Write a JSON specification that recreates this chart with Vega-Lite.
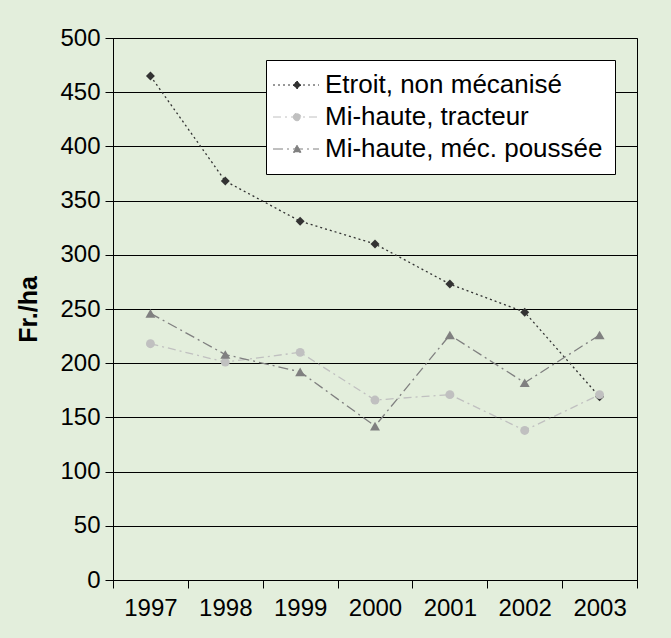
{
  "$schema": "https://vega.github.io/schema/vega-lite/v6.json",
  "width": 524,
  "height": 542,
  "autosize": {"type": "none"},
  "padding": {"left": 113, "top": 38, "right": 34, "bottom": 58},
  "background": "#e3eedc",
  "datasets": {
    "d": [
      {"year": "1997", "series": "Etroit, non mécanisé", "value": 465},
      {"year": "1998", "series": "Etroit, non mécanisé", "value": 368},
      {"year": "1999", "series": "Etroit, non mécanisé", "value": 331},
      {"year": "2000", "series": "Etroit, non mécanisé", "value": 310},
      {"year": "2001", "series": "Etroit, non mécanisé", "value": 273},
      {"year": "2002", "series": "Etroit, non mécanisé", "value": 247},
      {"year": "2003", "series": "Etroit, non mécanisé", "value": 169},
      {"year": "1997", "series": "Mi-haute, tracteur", "value": 218},
      {"year": "1998", "series": "Mi-haute, tracteur", "value": 201},
      {"year": "1999", "series": "Mi-haute, tracteur", "value": 210},
      {"year": "2000", "series": "Mi-haute, tracteur", "value": 166},
      {"year": "2001", "series": "Mi-haute, tracteur", "value": 171},
      {"year": "2002", "series": "Mi-haute, tracteur", "value": 138},
      {"year": "2003", "series": "Mi-haute, tracteur", "value": 171},
      {"year": "1997", "series": "Mi-haute, méc. poussée", "value": 246},
      {"year": "1998", "series": "Mi-haute, méc. poussée", "value": 208},
      {"year": "1999", "series": "Mi-haute, méc. poussée", "value": 192},
      {"year": "2000", "series": "Mi-haute, méc. poussée", "value": 142},
      {"year": "2001", "series": "Mi-haute, méc. poussée", "value": 226},
      {"year": "2002", "series": "Mi-haute, méc. poussée", "value": 182},
      {"year": "2003", "series": "Mi-haute, méc. poussée", "value": 226}
    ]
  },
  "data": {"name": "d"},
  "config": {
    "font": "Liberation Sans",
    "view": {"stroke": "#000000", "strokeWidth": 1, "fill": "#ffffff"},
    "axis": {
      "labelColor": "#000000",
      "labelFontSize": 24,
      "labelFont": "Liberation Sans",
      "domainColor": "#000000",
      "tickColor": "#000000",
      "tickSize": 8,
      "titleColor": "#000000",
      "titleFont": "Liberation Sans"
    },
    "legend": {
      "labelFontSize": 26,
      "labelFont": "Liberation Sans",
      "labelColor": "#000000",
      "fillColor": "#ffffff",
      "strokeColor": "#000000",
      "padding": 12,
      "symbolSize": 100,
      "symbolStrokeWidth": 1,
      "labelOffset": 21,
      "rowPadding": 6,
      "labelLimit": 500
    }
  },
  "layer": [
    {
      "transform": [{"filter": {"field": "series", "equal": "Etroit, non mécanisé"}}],
      "mark": {"type": "line", "color": "#333333", "strokeWidth": 1.3, "strokeDash": [2, 3]},
      "encoding": {
        "x": {"field": "year", "type": "ordinal", "scale": {"type": "band", "paddingInner": 0, "paddingOuter": 0},
          "axis": {"title": null, "labelAngle": 0, "tickBand": "extent", "labelPadding": 8, "grid": false}},
        "y": {"field": "value", "type": "quantitative", "scale": {"domain": [0, 500], "nice": false},
          "axis": {"values": [0, 50, 100, 150, 200, 250, 300, 350, 400, 450, 500], "grid": true, "gridColor": "#000000", "gridOpacity": 1,
            "labelPadding": 5, "title": "Fr./ha", "titleFontSize": 25, "titleFontWeight": "bold", "titlePadding": 18}}
      }
    },
    {
      "transform": [{"filter": {"field": "series", "equal": "Etroit, non mécanisé"}}],
      "mark": {"type": "point", "shape": "diamond", "filled": true, "color": "#333333", "size": 80, "opacity": 1},
      "encoding": {
        "x": {"field": "year", "type": "ordinal"},
        "y": {"field": "value", "type": "quantitative"}
      }
    },
    {
      "transform": [{"filter": {"field": "series", "equal": "Mi-haute, tracteur"}}],
      "mark": {"type": "line", "color": "#c0c0c0", "strokeWidth": 1.3, "strokeDash": [8, 4, 2, 4]},
      "encoding": {
        "x": {"field": "year", "type": "ordinal"},
        "y": {"field": "value", "type": "quantitative"}
      }
    },
    {
      "transform": [{"filter": {"field": "series", "equal": "Mi-haute, tracteur"}}],
      "mark": {"type": "point", "shape": "circle", "filled": true, "color": "#c0c0c0", "size": 80, "opacity": 1},
      "encoding": {
        "x": {"field": "year", "type": "ordinal"},
        "y": {"field": "value", "type": "quantitative"}
      }
    },
    {
      "transform": [{"filter": {"field": "series", "equal": "Mi-haute, méc. poussée"}}],
      "mark": {"type": "line", "color": "#808080", "strokeWidth": 1.3, "strokeDash": [10, 4, 2, 4]},
      "encoding": {
        "x": {"field": "year", "type": "ordinal"},
        "y": {"field": "value", "type": "quantitative"}
      }
    },
    {
      "transform": [{"filter": {"field": "series", "equal": "Mi-haute, méc. poussée"}}],
      "mark": {"type": "point", "shape": "triangle-up", "filled": true, "color": "#808080", "size": 100, "opacity": 1},
      "encoding": {
        "x": {"field": "year", "type": "ordinal"},
        "y": {"field": "value", "type": "quantitative"}
      }
    },
    {
      "data": {"values": []},
      "mark": {"type": "point", "filled": true, "opacity": 1, "size": 100, "strokeWidth": 1},
      "encoding": {
        "fill": {"field": "series", "type": "nominal",
          "scale": {"domain": ["Etroit, non mécanisé", "Mi-haute, tracteur", "Mi-haute, méc. poussée"], "range": ["#333333", "#c0c0c0", "#808080"]},
          "legend": {"orient": "none", "legendX": 153, "legendY": 22, "title": null}},
        "stroke": {"field": "series", "type": "nominal",
          "scale": {"domain": ["Etroit, non mécanisé", "Mi-haute, tracteur", "Mi-haute, méc. poussée"], "range": ["#333333", "#c0c0c0", "#808080"]},
          "legend": {"orient": "none", "legendX": 153, "legendY": 22, "title": null}},
        "shape": {"field": "series", "type": "nominal",
          "scale": {"domain": ["Etroit, non mécanisé", "Mi-haute, tracteur", "Mi-haute, méc. poussée"],
            "range": [
              "M-3.6,0H5.6M1.2,-0.8L2,0L1.2,0.8L0.4,0Z",
              "M-3.6,0H5.6M0.45,0A0.75,0.75,0,1,0,1.95,0A0.75,0.75,0,1,0,0.45,0Z",
              "M-3.6,0H5.6M1.2,-0.75L2,0.65L0.4,0.65Z"
            ]},
          "legend": {"orient": "none", "legendX": 153, "legendY": 22, "title": null}},
        "strokeDash": {"field": "series", "type": "nominal",
          "scale": {"domain": ["Etroit, non mécanisé", "Mi-haute, tracteur", "Mi-haute, méc. poussée"], "range": [[2, 3], [8, 4, 2, 4], [10, 4, 2, 4]]},
          "legend": {"orient": "none", "legendX": 153, "legendY": 22, "title": null}}
      }
    }
  ]
}
